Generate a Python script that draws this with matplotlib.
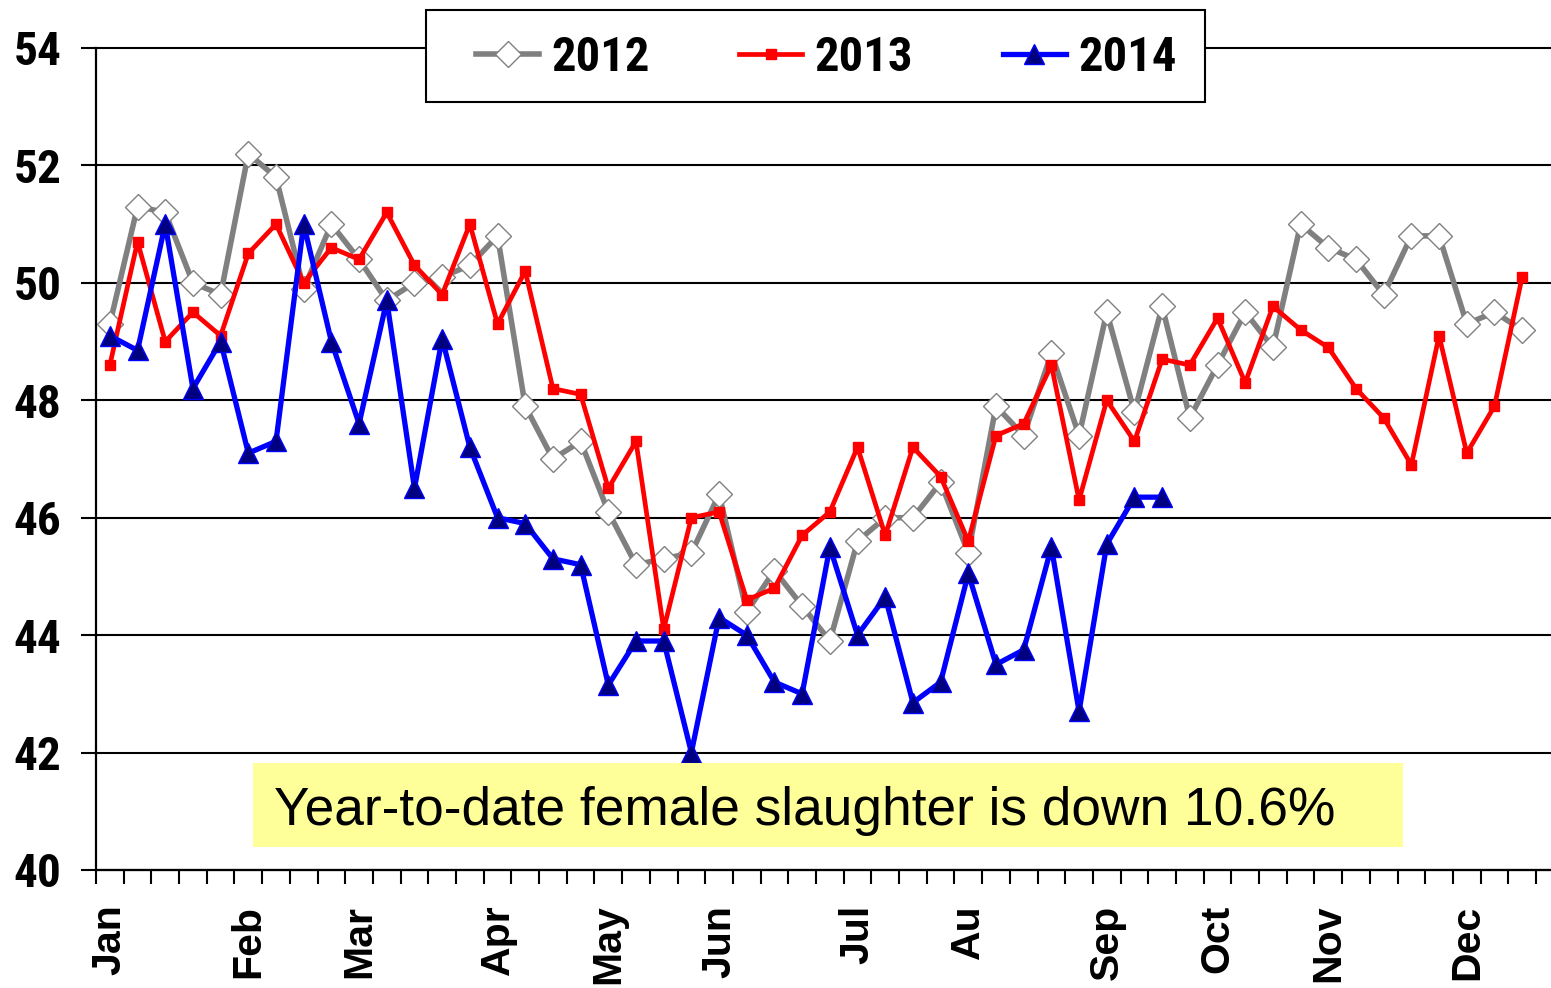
import matplotlib
matplotlib.use("Agg")
import matplotlib.pyplot as plt
from matplotlib import font_manager
from matplotlib.patches import Rectangle
from matplotlib.ticker import FixedLocator

# ---- data -------------------------------------------------------------
weeks = list(range(52))
month_labels = ["Jan", "Feb", "Mar", "Apr", "May", "Jun", "Jul", "Au", "Sep", "Oct", "Nov", "Dec"]
month_weeks = [0, 5, 9, 14, 18, 22, 27, 31, 36, 40, 44, 49]

y2012 = [49.3, 51.3, 51.2, 50.0, 49.8, 52.2, 51.8, 49.9, 51.0, 50.4,
         49.7, 50.0, 50.1, 50.3, 50.8, 47.9, 47.0, 47.3, 46.1, 45.2,
         45.3, 45.4, 46.4, 44.4, 45.1, 44.5, 43.9, 45.6, 46.0, 46.0,
         46.6, 45.4, 47.9, 47.4, 48.8, 47.4, 49.5, 47.8, 49.6, 47.7,
         48.6, 49.5, 48.9, 51.0, 50.6, 50.4, 49.8, 50.8, 50.8, 49.3,
         49.5, 49.2]
y2013 = [48.6, 50.7, 49.0, 49.5, 49.1, 50.5, 51.0, 50.0, 50.6, 50.4,
         51.2, 50.3, 49.8, 51.0, 49.3, 50.2, 48.2, 48.1, 46.5, 47.3,
         44.1, 46.0, 46.1, 44.6, 44.8, 45.7, 46.1, 47.2, 45.7, 47.2,
         46.7, 45.6, 47.4, 47.6, 48.6, 46.3, 48.0, 47.3, 48.7, 48.6,
         49.4, 48.3, 49.6, 49.2, 48.9, 48.2, 47.7, 46.9, 49.1, 47.1,
         47.9, 50.1]
y2014 = [49.1, 48.85, 51.0, 48.2, 49.0, 47.1, 47.3, 51.0, 49.0, 47.6,
         49.7, 46.5, 49.05, 47.2, 46.0, 45.9, 45.3, 45.2, 43.15, 43.9,
         43.9, 42.0, 44.3, 44.0, 43.2, 43.0, 45.5, 44.0, 44.65, 42.85,
         43.2, 45.05, 43.5, 43.75, 45.5, 42.7, 45.55, 46.35, 46.35]
y_ticks = [40, 42, 44, 46, 48, 50, 52, 54]
series_names = ["2012", "2013", "2014"]
note_text = "Year-to-date female slaughter is down 10.6%"

# ---- fonts ------------------------------------------------------------
available = {f.name for f in font_manager.fontManager.ttflist}
narrow = "DejaVu Sans"
for cand in ["Liberation Sans Narrow", "Roboto Condensed", "DejaVu Sans Condensed", "Open Sans Condensed"]:
    if cand in available:
        narrow = cand
        break
arial = "Liberation Sans" if "Liberation Sans" in available else "DejaVu Sans"

W, H = 1551, 988
fig = plt.figure(figsize=(W / 100, H / 100), dpi=100)
fig.patch.set_facecolor("white")

ax = fig.add_axes([96 / W, (H - 870) / H, 1 - 96 / W, (870 - 48) / H])

ax.plot(weeks[:len(y2012)], y2012, color="#808080", lw=4.0, marker="D", ms=13,
        mfc="white", mec="#808080", mew=1.0, zorder=3, label=series_names[0])
ax.plot(weeks[:len(y2013)], y2013, color="#FF0000", lw=3.4, marker="s", ms=7,
        mfc="#FF0000", mec="#FF0000", zorder=4, label=series_names[1])
ax.plot(weeks[:len(y2014)], y2014, color="#0000FF", lw=3.8, marker="^", ms=15,
        mfc="#000080", mec="#0000FF", mew=1.0, zorder=5, label=series_names[2])

# axes limits (category axis: -0.5 .. 51.5 spans 96..1536 px)
px_per_week = (1536 - 96) / 52
ax.set_xlim(-0.5, -0.5 + (W - 96) / px_per_week)
ax.set_ylim(40, 54)

for s in ["top", "right"]:
    ax.spines[s].set_visible(False)
for s in ["left", "bottom"]:
    ax.spines[s].set_color("black")
    ax.spines[s].set_linewidth(1.6)

ax.set_yticks(y_ticks)
ax.set_yticklabels([str(v) for v in y_ticks], fontfamily=narrow, fontweight="bold", fontsize=34)
ax.tick_params(axis="y", direction="out", length=11, width=1.5, color="black", pad=14)
ax.yaxis.grid(True, color="black", lw=1.5)
for t in ax.yaxis.get_major_ticks():
    t.gridline.set_clip_on(False)

ax.set_xticks(month_weeks)
ax.set_xticklabels(month_labels, rotation=90, fontfamily=arial, fontweight="bold", fontsize=29.5)
ax.xaxis.set_minor_locator(FixedLocator([i - 0.5 for i in range(53)]))
ax.tick_params(axis="x", which="major", length=0, pad=25)
ax.tick_params(axis="x", which="minor", direction="out", length=10, width=1.5, color="black")
for lbl in ax.get_xticklabels():
    lbl.set_va("top")
    lbl.set_ha("center")

# legend: frame drawn separately, entries placed inside
fig.add_artist(Rectangle((426 / W, 1 - 102 / H), (1205 - 426) / W, (102 - 10) / H,
                         transform=fig.transFigure, facecolor="white", edgecolor="black",
                         lw=1.5, zorder=9))
handles, labels = ax.get_legend_handles_labels()
leg = fig.legend(handles, labels, loc="center left", bbox_to_anchor=(476 / W, 1 - 58 / H),
                 bbox_transform=fig.transFigure, ncol=3, frameon=False,
                 prop={"family": narrow, "weight": "bold", "size": 35},
                 handlelength=1.3, handletextpad=0.25, columnspacing=1.84, borderpad=0,
                 borderaxespad=0)
leg.set_zorder(10)

# annotation box
fig.add_artist(Rectangle((253 / W, 1 - 847 / H), (1403 - 253) / W, (847 - 763) / H,
                         transform=fig.transFigure, facecolor="#FFFF99", edgecolor="none", zorder=5))
fig.text(274 / W, 1 - 825 / H, note_text, fontfamily=arial, fontsize=38.3, color="black",
         ha="left", va="baseline", zorder=6)

fig.savefig("out.png", dpi=100, facecolor="white")
